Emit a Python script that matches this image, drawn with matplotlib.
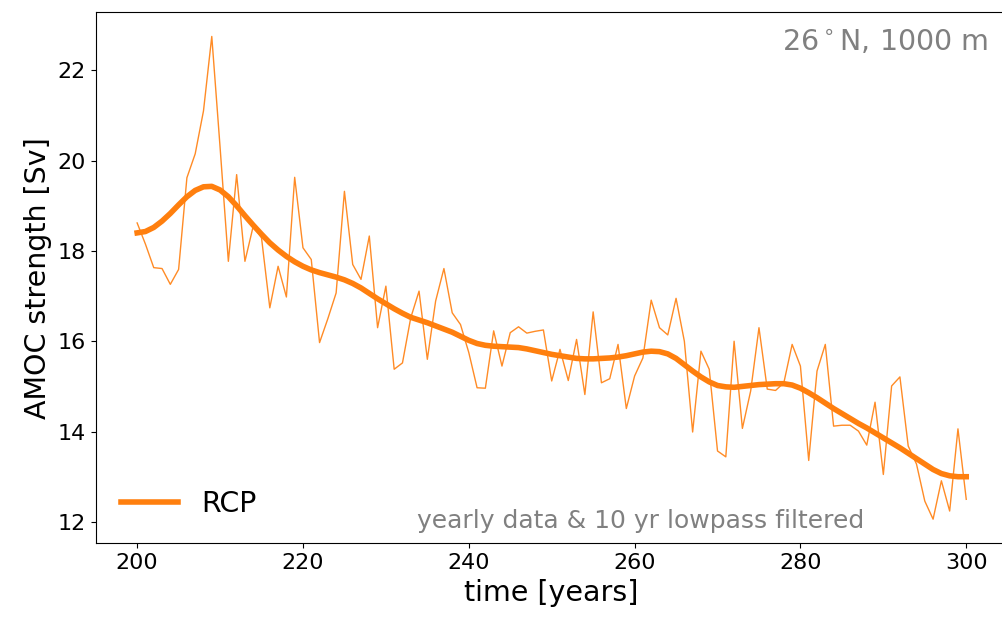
import numpy as np
import matplotlib
matplotlib.use("Agg")
import matplotlib.pyplot as plt

# model years 200..300
years = list(range(200, 301))

# yearly AMOC transport at 26N, 1000 m [Sv]
amoc_yearly = [
    18.62, 18.15, 17.63, 17.61, 17.26, 17.59, 19.62, 20.15, 21.10, 22.75,
    20.30, 17.77, 19.69, 17.77, 18.55, 18.29, 16.74, 17.66, 16.98, 19.63,
    18.07, 17.81, 15.97, 16.50, 17.07, 19.32, 17.70, 17.37, 18.33, 16.30,
    17.22, 15.38, 15.52, 16.52, 17.11, 15.60, 16.89, 17.61, 16.63, 16.37,
    15.75, 14.97, 14.96, 16.23, 15.45, 16.19, 16.32, 16.18, 16.22, 16.25,
    15.12, 15.82, 15.13, 16.04, 14.82, 16.65, 15.08, 15.17, 15.93, 14.51,
    15.23, 15.63, 16.91, 16.30, 16.14, 16.95, 16.00, 13.99, 15.78, 15.38,
    13.57, 13.44, 16.00, 14.07, 14.90, 16.30, 14.94, 14.91, 15.08, 15.93,
    15.45, 13.36, 15.34, 15.93, 14.12, 14.14, 14.14, 14.01, 13.70, 14.65,
    13.05, 15.01, 15.21, 13.68, 13.28, 12.46, 12.06, 12.91, 12.24, 14.06,
    12.50,
]

# 10 yr lowpass filtered series [Sv]
amoc_lowpass = [
    18.40, 18.43, 18.52, 18.66, 18.83, 19.02, 19.20, 19.34, 19.42, 19.43,
    19.35, 19.20, 19.00, 18.78, 18.57, 18.37, 18.18, 18.02, 17.88, 17.76,
    17.66, 17.58, 17.52, 17.47, 17.42, 17.36, 17.28, 17.18, 17.06, 16.94,
    16.83, 16.72, 16.62, 16.53, 16.47, 16.41, 16.34, 16.27, 16.20, 16.11,
    16.02, 15.95, 15.91, 15.89, 15.88, 15.87, 15.86, 15.83, 15.79, 15.75,
    15.71, 15.68, 15.65, 15.62, 15.61, 15.61, 15.62, 15.63, 15.65, 15.68,
    15.72, 15.76, 15.78, 15.77, 15.72, 15.62, 15.48, 15.34, 15.21, 15.10,
    15.02, 14.99, 14.98, 15.00, 15.02, 15.04, 15.05, 15.06, 15.06, 15.03,
    14.96, 14.86, 14.75, 14.63, 14.51, 14.40, 14.29, 14.18, 14.08, 13.97,
    13.86, 13.75, 13.64, 13.52, 13.40, 13.28, 13.16, 13.07, 13.02, 13.00,
    13.00,
]

plt.rcParams["savefig.bbox"] = None

fig = plt.figure(figsize=(10.02, 6.17), dpi=100)
# axes run slightly past the right edge of the canvas
ax = fig.add_axes([95.7 / 1002, 73.7 / 617, 912 / 1002, 531 / 617])

ax.plot(years, amoc_yearly, color="C1", lw=1.0, alpha=0.9)
ax.plot(years, amoc_lowpass, color="C1", lw=4.0, label="RCP")

ax.set_xlim(195, 305)
ax.set_xlabel("time [years]", fontsize=20.5)
ax.set_ylabel("AMOC strength [Sv]", fontsize=20.5)
ax.tick_params(labelsize=16)
ax.set_yticks([12, 14, 16, 18, 20, 22])
ax.spines["right"].set_visible(False)

ax.text(988, 589, r"26$^\circ$N, 1000 m", transform=None,
        ha="right", va="top", fontsize=20.5, color="gray")
ax.text(641, 89, "yearly data & 10 yr lowpass filtered",
        transform=None, ha="center", va="baseline", fontsize=18,
        color="gray")

ax.legend(loc="lower left", frameon=False, fontsize=20.5)

fig.savefig("out.png", dpi=100)
